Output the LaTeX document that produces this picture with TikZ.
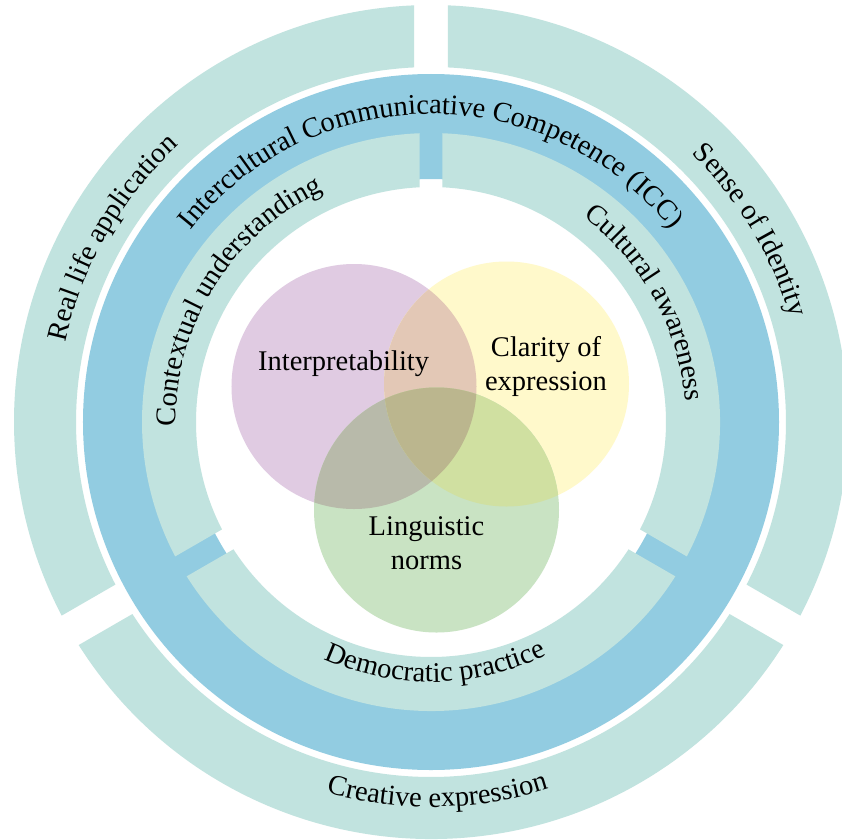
\documentclass[tikz,border=0pt]{standalone}
\usepackage{fontspec}
\setmainfont{Liberation Serif}
\usetikzlibrary{decorations.text}
\definecolor{ringteal}{HTML}{C1E3DF}
\definecolor{ringblue}{HTML}{92CCE1}
\definecolor{vpurple}{HTML}{E0CBE2}
\definecolor{vyellow}{HTML}{FFF9CB}
\definecolor{vgreen}{HTML}{C9E3C3}
\definecolor{vpy}{HTML}{E3C8B6}
\definecolor{vpg}{HTML}{B8BAAA}
\definecolor{vyg}{HTML}{D0E0A1}
\definecolor{vpyg}{HTML}{BBB68E}
\newcommand\arcfont{\fontsize{28.5}{34.5}\selectfont}
\newcommand\ringseg[6]{%
  \pgfmathsetmacro\segAo{#1+asin(#5/#4)}%
  \pgfmathsetmacro\segBo{#2-asin(#5/#4)}%
  \pgfmathsetmacro\segAi{#1+asin(#5/#3)}%
  \pgfmathsetmacro\segBi{#2-asin(#5/#3)}%
  \fill[#6] (\segAo:#4pt) arc[start angle=\segAo, end angle=\segBo, radius=#4pt]
    -- (\segBi:#3pt) arc[start angle=\segBi, end angle=\segAi, radius=#3pt] -- cycle;
}
\tikzset{
  arctext/.style={decorate, decoration={text along path, text align=center, text={|\arcfont|#1}}},
  vlabel/.style={font=\arcfont, inner sep=0pt, align=center}
}
\begin{document}
\begin{tikzpicture}[x=1pt,y=1pt]
\clip (-431pt,-417pt) rectangle (411pt,422pt);
\fill[white] (-431pt,-417pt) rectangle (411pt,422pt);
% outer ring
\ringseg{90}{210}{355}{417}{17}{ringteal}
\ringseg{210}{330}{355}{417}{17}{ringteal}
\ringseg{330}{450}{355}{417}{17}{ringteal}
% blue ring
\fill[ringblue, even odd rule] (0,0) circle[radius=348pt] (0,0) circle[radius=243pt];
% inner ring
\ringseg{90}{210}{235}{289}{11.5}{ringteal}
\ringseg{210}{330}{235}{289}{11.5}{ringteal}
\ringseg{330}{450}{235}{289}{11.5}{ringteal}
% Venn
\coordinate (P) at (-77pt,35.5pt);
\coordinate (Y) at (75.5pt,38pt);
\coordinate (G) at (5.5pt,-88pt);
\fill[vpurple] (P) circle[radius=122.5pt];
\fill[vyellow] (Y) circle[radius=122.5pt];
\fill[vgreen] (G) circle[radius=122.5pt];
\begin{scope}\clip (P) circle[radius=122.5pt]; \fill[vpy] (Y) circle[radius=122.5pt];\end{scope}
\begin{scope}\clip (P) circle[radius=122.5pt]; \fill[vpg] (G) circle[radius=122.5pt];\end{scope}
\begin{scope}\clip (Y) circle[radius=122.5pt]; \fill[vyg] (G) circle[radius=122.5pt];\end{scope}
\begin{scope}\clip (P) circle[radius=122.5pt]; \clip (Y) circle[radius=122.5pt]; \fill[vpyg] (G) circle[radius=122.5pt];\end{scope}
\node[vlabel, anchor=base] (interp) at (-87.4pt,52pt) {Interpretability};
\node[vlabel] (clarity) at (115pt,55.5pt) {Clarity of\\expression};
\node[vlabel] (ling) at (-4.5pt,-121pt) {Linguistic\\norms};
% arc texts
\path[arctext={Intercultural Communicative Competence (ICC)}] (180:308pt) arc[start angle=180, end angle=0, radius=308pt];
\path[arctext={Real life application}] (240:374pt) arc[start angle=240, end angle=60, radius=374pt];
\path[arctext={Sense of Identity}] (121:374pt) arc[start angle=121, end angle=-59, radius=374pt];
\path[arctext={Creative expression}] (181:385pt) arc[start angle=181, end angle=361, radius=385pt];
\path[arctext={Contextual understanding}] (238:255pt) arc[start angle=238, end angle=58, radius=255pt];
\path[arctext={Cultural awareness}] (119:255pt) arc[start angle=119, end angle=-61, radius=255pt];
\path[arctext={Democratic practice}] (181:260pt) arc[start angle=181, end angle=361, radius=260pt];
\end{tikzpicture}
\end{document}
